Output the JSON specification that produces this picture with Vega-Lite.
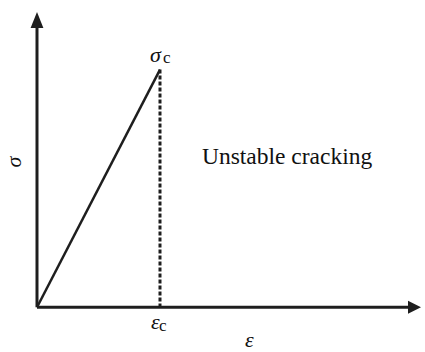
{
  "$schema": "https://vega.github.io/schema/vega-lite/v6.json",
  "width": 425,
  "height": 352,
  "padding": 0,
  "autosize": {"type": "fit", "contains": "padding"},
  "background": "white",
  "config": {"view": {"stroke": null}},
  "datasets": {
    "axes": [
      {"e1": 0, "s1": 0, "e2": 3.08, "s2": 0},
      {"e1": 0, "s1": 0, "e2": 0, "s2": 1.2}
    ],
    "elastic": [{"e1": 0, "s1": 0, "e2": 1, "s2": 1}],
    "crack": [{"e1": 1, "s1": 1, "e2": 1, "s2": 0}],
    "xtip": [{"e": 3.122, "s": 0}],
    "ytip": [{"e": 0, "s": 1.2427}]
  },
  "encoding": {
    "x": {"type": "quantitative", "scale": {"domain": [-0.3008, 3.1545], "zero": false, "nice": false}, "axis": null},
    "y": {"type": "quantitative", "scale": {"domain": [-0.1799, 1.2929], "zero": false, "nice": false}, "axis": null}
  },
  "layer": [
    {
      "data": {"name": "axes"},
      "mark": {"type": "rule", "color": "#1e1e1e", "strokeWidth": 3},
      "encoding": {
        "x": {"field": "e1", "type": "quantitative"},
        "y": {"field": "s1", "type": "quantitative"},
        "x2": {"field": "e2"},
        "y2": {"field": "s2"}
      }
    },
    {
      "data": {"name": "elastic"},
      "mark": {"type": "rule", "color": "#1e1e1e", "strokeWidth": 2.5},
      "encoding": {
        "x": {"field": "e1", "type": "quantitative"},
        "y": {"field": "s1", "type": "quantitative"},
        "x2": {"field": "e2"},
        "y2": {"field": "s2"}
      }
    },
    {
      "data": {"name": "crack"},
      "mark": {"type": "rule", "color": "#1e1e1e", "strokeWidth": 3, "strokeDash": [4, 2]},
      "encoding": {
        "x": {"field": "e1", "type": "quantitative"},
        "y": {"field": "s1", "type": "quantitative"},
        "x2": {"field": "e2"},
        "y2": {"field": "s2"}
      }
    },
    {
      "data": {"name": "xtip"},
      "mark": {"type": "point", "shape": "M0,0L-2,-1L-2,1Z", "size": 169, "filled": true, "opacity": 1, "color": "#1e1e1e", "strokeWidth": 0},
      "encoding": {
        "x": {"field": "e", "type": "quantitative"},
        "y": {"field": "s", "type": "quantitative"}
      }
    },
    {
      "data": {"name": "ytip"},
      "mark": {"type": "point", "shape": "M0,0L-0.8,2L0.8,2Z", "size": 256, "filled": true, "opacity": 1, "color": "#1e1e1e", "strokeWidth": 0},
      "encoding": {
        "x": {"field": "e", "type": "quantitative"},
        "y": {"field": "s", "type": "quantitative"}
      }
    },
    {
      "data": {"values": [
        {"label": "Unstable cracking", "e": 1.341, "s": 0.6025}
      ]},
      "mark": {"type": "text", "font": "Liberation Serif, Times New Roman, serif", "fontSize": 23.5, "align": "left", "baseline": "alphabetic", "color": "#111"},
      "encoding": {
        "x": {"field": "e", "type": "quantitative"},
        "y": {"field": "s", "type": "quantitative"},
        "text": {"field": "label"}
      }
    },
    {
      "data": {"values": [
        {"label": "σ", "e": 0.9187, "s": 1.0335},
        {"label": "ε", "e": 0.9268, "s": -0.092},
        {"label": "ε", "e": 1.691, "s": -0.1674}
      ]},
      "mark": {"type": "text", "font": "Liberation Serif, Times New Roman, serif", "fontSize": 22, "fontStyle": "italic", "align": "left", "baseline": "alphabetic", "color": "#111"},
      "encoding": {
        "x": {"field": "e", "type": "quantitative"},
        "y": {"field": "s", "type": "quantitative"},
        "text": {"field": "label"}
      }
    },
    {
      "data": {"values": [
        {"label": "c", "e": 1.0244, "s": 1.029},
        {"label": "c", "e": 0.992, "s": -0.1004}
      ]},
      "mark": {"type": "text", "font": "Liberation Serif, Times New Roman, serif", "fontSize": 17, "align": "left", "baseline": "alphabetic", "color": "#111"},
      "encoding": {
        "x": {"field": "e", "type": "quantitative"},
        "y": {"field": "s", "type": "quantitative"},
        "text": {"field": "label"}
      }
    },
    {
      "data": {"values": [
        {"label": "σ", "e": -0.187, "s": 0.611}
      ]},
      "mark": {"type": "text", "font": "Liberation Serif, Times New Roman, serif", "fontSize": 22, "fontStyle": "italic", "align": "center", "baseline": "middle", "angle": 270, "color": "#111"},
      "encoding": {
        "x": {"field": "e", "type": "quantitative"},
        "y": {"field": "s", "type": "quantitative"},
        "text": {"field": "label"}
      }
    }
  ]
}
